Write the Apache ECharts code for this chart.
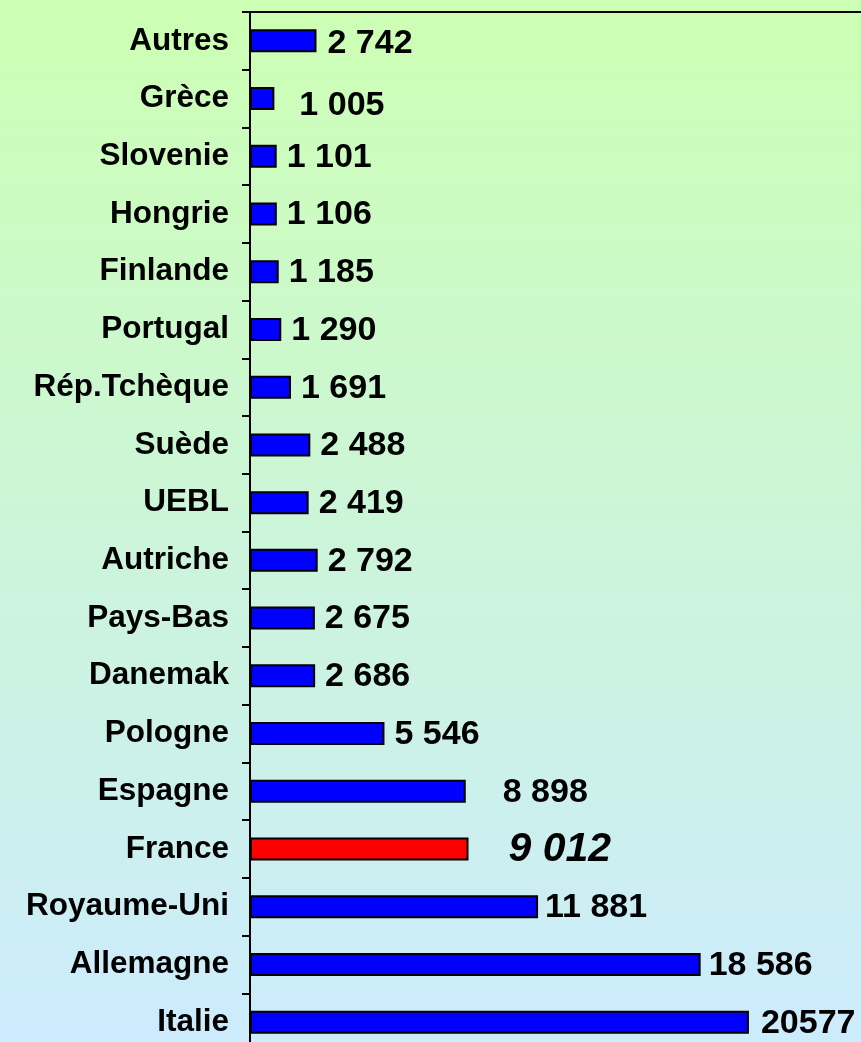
<!DOCTYPE html>
<html>
<head>
<meta charset="utf-8">
<script src="https://cdn.jsdelivr.net/npm/echarts@6/dist/echarts.min.js"></script>
<style>
html,body{margin:0;padding:0;overflow:hidden;background:#CCEBFF;}
#chart{width:861px;height:1060px;}
</style>
</head>
<body>
<div id="chart"></div>
<script>
const categories = ['Autres','Grèce','Slovenie','Hongrie','Finlande','Portugal','Rép.Tchèque','Suède','UEBL','Autriche','Pays-Bas','Danemak','Pologne','Espagne','France','Royaume-Uni','Allemagne','Italie'];
const values = [2742,1005,1101,1106,1185,1290,1691,2488,2419,2792,2675,2686,5546,8898,9012,11881,18586,20577];
const valueLabels = ['2 742','1 005','1 101','1 106','1 185','1 290','1 691','2 488','2 419','2 792','2 675','2 686','5 546','8 898','9 012','11 881','18 586','20577'];
const highlight = 'France';

// label placement tweaks (styling only)
const labelTweaks = {
  'Autres': {distance: 11, dy: 3},
  'Grèce': {distance: 25, dy: 7},
  'Espagne': {distance: 37, dy: 1},
  'France': {distance: 40, dy: 1},
  'Royaume-Uni': {distance: 7, dy: 1},
  'Allemagne': {distance: 8, dy: 1},
  'Italie': {distance: 12, dy: 1}
};

const seriesData = values.map((v, i) => {
  const cat = categories[i];
  const t = labelTweaks[cat] || {distance: 10, dy: 1};
  const isHi = cat === highlight;
  return {
    value: v,
    itemStyle: {color: isHi ? '#FF0000' : '#0000FF'},
    label: {
      distance: t.distance,
      offset: [0, t.dy],
      fontStyle: isHi ? 'italic' : 'normal',
      fontSize: isHi ? 41 : 34
    }
  };
});

const chart = echarts.init(document.getElementById('chart'));
chart.setOption({
  animation: false,
  backgroundColor: {
    type: 'linear', x: 0, y: 0, x2: 0, y2: 1,
    colorStops: [{offset: 0, color: '#CCFFB3'}, {offset: 1, color: '#CCEBFF'}]
  },
  grid: {left: 250, right: 0, top: 12, height: 1039, containLabel: false},
  xAxis: {
    type: 'value', position: 'top', min: 0, max: 25200,
    axisLine: {show: true, lineStyle: {color: '#000', width: 2}},
    axisTick: {show: false}, axisLabel: {show: false}, splitLine: {show: false}
  },
  yAxis: {
    type: 'category', inverse: true, data: categories,
    axisLine: {show: true, lineStyle: {color: '#000', width: 2}},
    axisTick: {show: true, length: 8, lineStyle: {color: '#000', width: 2}},
    axisLabel: {color: '#000', fontFamily: 'Liberation Sans, Arial, sans-serif', fontWeight: 'bold', fontSize: 31.5, margin: 21}
  },
  series: [{
    type: 'bar', data: seriesData, barWidth: 23,
    itemStyle: {borderColor: '#000', borderWidth: 2},
    label: {
      show: true, position: 'right', color: '#000',
      fontFamily: 'Liberation Sans, Arial, sans-serif', fontWeight: 'bold',
      formatter: p => valueLabels[p.dataIndex]
    }
  }]
});
</script>
</body>
</html>
